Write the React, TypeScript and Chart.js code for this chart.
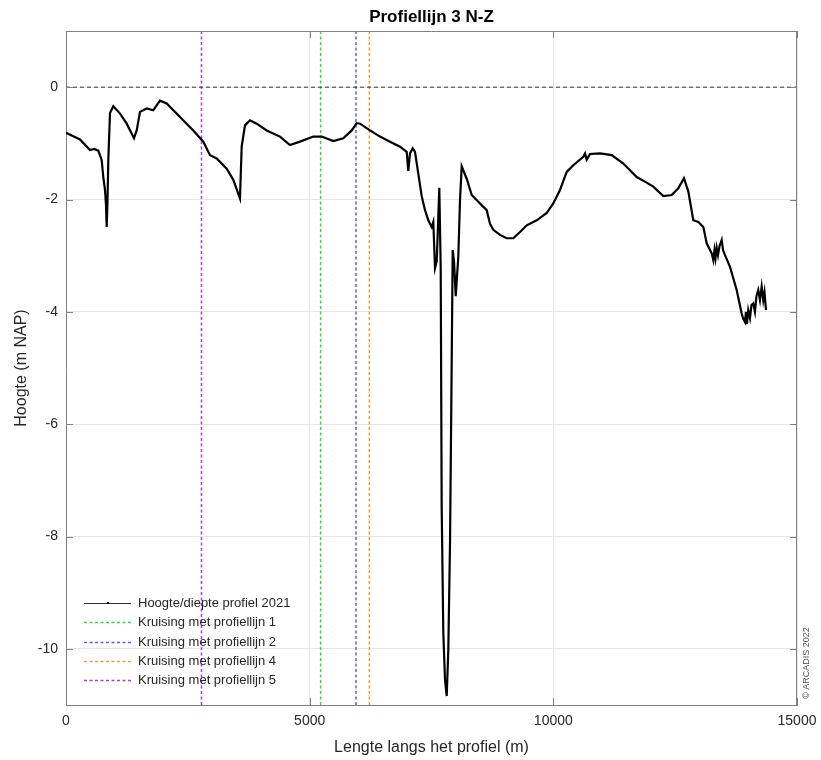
import React, { useEffect, useRef } from "react";
import { Chart, registerables } from "chart.js";

Chart.register(...registerables);

const chartTitle = "Profiellijn 3 N-Z";
const xTitle = "Lengte langs het profiel (m)";
const yTitle = "Hoogte (m NAP)";
const copyright = "© ARCADIS 2022";

const profileLabel = "Hoogte/diepte profiel 2021";
const profileX = [0, 287, 492, 580, 663, 733, 765, 800, 821, 835, 852, 868, 903, 971, 1108, 1246, 1395, 1451, 1518, 1656, 1791, 1929, 2066, 2339, 2612, 2817, 2955, 3092, 3298, 3433, 3570, 3605, 3673, 3776, 3913, 4118, 4391, 4596, 4802, 5075, 5247, 5485, 5690, 5863, 5965, 6033, 6238, 6443, 6649, 6854, 6991, 7024, 7059, 7114, 7161, 7229, 7299, 7367, 7435, 7504, 7537, 7572, 7607, 7640, 7660, 7689, 7709, 7742, 7777, 7812, 7845, 7880, 7914, 7935, 7962, 7997, 8050, 8085, 8120, 8222, 8325, 8495, 8633, 8700, 8768, 8906, 9043, 9179, 9316, 9454, 9659, 9864, 9999, 10137, 10274, 10410, 10615, 10650, 10685, 10753, 10958, 11198, 11436, 11711, 11916, 12051, 12257, 12429, 12564, 12681, 12770, 12872, 12975, 13078, 13147, 13250, 13283, 13307, 13328, 13352, 13379, 13410, 13455, 13482, 13523, 13625, 13762, 13865, 13891, 13932, 13953, 13973, 14000, 14035, 14066, 14103, 14137, 14168, 14205, 14240, 14275, 14308, 14333, 14364];
const profileY = [-0.81, -0.93, -1.12, -1.1, -1.13, -1.3, -1.6, -1.83, -2.1, -2.49, -2.01, -1.3, -0.46, -0.34, -0.47, -0.65, -0.91, -0.77, -0.44, -0.38, -0.41, -0.24, -0.29, -0.53, -0.77, -0.97, -1.21, -1.27, -1.45, -1.65, -1.98, -1.06, -0.68, -0.59, -0.65, -0.77, -0.88, -1.03, -0.97, -0.88, -0.88, -0.96, -0.91, -0.77, -0.64, -0.65, -0.77, -0.88, -0.97, -1.06, -1.15, -1.49, -1.18, -1.09, -1.15, -1.54, -1.94, -2.19, -2.37, -2.49, -2.4, -3.22, -3.1, -2.31, -1.79, -3.22, -7.47, -9.7, -10.55, -10.84, -10.02, -8.11, -4.93, -2.9, -3.1, -3.72, -3.02, -2.01, -1.41, -1.63, -1.92, -2.07, -2.19, -2.43, -2.54, -2.63, -2.69, -2.69, -2.58, -2.46, -2.37, -2.24, -2.07, -1.83, -1.51, -1.39, -1.24, -1.18, -1.29, -1.19, -1.18, -1.21, -1.36, -1.6, -1.7, -1.77, -1.94, -1.92, -1.8, -1.62, -1.86, -2.37, -2.4, -2.49, -2.78, -2.96, -3.08, -2.9, -3.04, -2.86, -2.99, -2.83, -2.72, -2.9, -2.99, -3.2, -3.61, -4.03, -4.11, -4.18, -4.0, -4.22, -3.97, -4.11, -3.88, -3.85, -4.0, -3.72, -3.61, -3.79, -3.55, -3.79, -3.65, -3.97];

const zeroLineX = [0, 15000];
const zeroLineY = [0, 0];

const crossingLabels = [
  "Kruising met profiellijn 1",
  "Kruising met profiellijn 2",
  "Kruising met profiellijn 4",
  "Kruising met profiellijn 5",
];
const crossingX = [5225, 5950, 6225, 2780];
const crossingColors = ["#33dd33", "#5c5cff", "#ff9433", "#9b3dff"];

const xRange = [0, 15000];
const yRange = [-11, 1];
const xTicks = [0, 5000, 10000, 15000];
const yTicks = [-10, -8, -6, -4, -2, 0];

const FONT = "'Liberation Sans', Arial, Helvetica, sans-serif";
const TEXT = "#262626";
const AXIS = "#808080";

const overlayPlugin = {
  id: "overlay",
  afterDraw(chart: any) {
    const ctx = chart.ctx;
    const ca = chart.chartArea;
    const xs = chart.scales.x;
    const ys = chart.scales.y;
    ctx.save();
    ctx.strokeStyle = AXIS;
    ctx.lineWidth = 1;
    ctx.setLineDash([]);
    ctx.beginPath();
    ctx.moveTo(ca.left, Math.round(ca.top) + 0.5);
    ctx.lineTo(ca.right, Math.round(ca.top) + 0.5);
    ctx.moveTo(Math.round(ca.right) - 0.5, ca.top);
    ctx.lineTo(Math.round(ca.right) - 0.5, ca.bottom);
    ctx.stroke();
    ctx.beginPath();
    for (const v of yTicks) {
      const py = Math.round(ys.getPixelForValue(v)) + 0.5;
      ctx.moveTo(ca.left, py);
      ctx.lineTo(ca.left + 7, py);
      ctx.moveTo(ca.right, py);
      ctx.lineTo(ca.right - 7, py);
    }
    for (const v of xTicks) {
      const px = Math.round(xs.getPixelForValue(v)) + 0.5;
      ctx.moveTo(px, ca.bottom);
      ctx.lineTo(px, ca.bottom - 7);
      ctx.moveTo(px, ca.top);
      ctx.lineTo(px, ca.top + 7);
    }
    ctx.stroke();

    ctx.fillStyle = "#000";
    ctx.font = `bold 17px ${FONT}`;
    ctx.textAlign = "center";
    ctx.textBaseline = "middle";
    ctx.fillText(chartTitle, (ca.left + ca.right) / 2, 17);

    const ds = chart.data.datasets;
    const rows = [ds[0], ds[2], ds[3], ds[4], ds[5]];
    ctx.font = `13px ${FONT}`;
    ctx.textAlign = "left";
    ctx.textBaseline = "middle";
    const x0 = 84;
    const x1 = 131;
    rows.forEach((d: any, i: number) => {
      const y = Math.round(603 + i * 19.3) + 0.5;
      ctx.strokeStyle = i === 0 ? "#333333" : d.borderColor;
      ctx.lineWidth = i === 0 ? 1 : 1.3;
      ctx.setLineDash(i === 0 ? [] : [3, 2.5]);
      ctx.beginPath();
      ctx.moveTo(x0, y);
      ctx.lineTo(x1, y);
      ctx.stroke();
      if (i === 0) {
        ctx.fillStyle = "#000";
        ctx.fillRect(107, y - 1.5, 2, 2);
      }
      ctx.fillStyle = TEXT;
      ctx.fillText(d.label, 138, y);
    });
    ctx.setLineDash([]);

    ctx.save();
    ctx.translate(807, 663);
    ctx.rotate(-Math.PI / 2);
    ctx.font = `9px ${FONT}`;
    ctx.fillStyle = "#505050";
    ctx.textAlign = "center";
    ctx.textBaseline = "middle";
    ctx.fillText(copyright, 0, 0);
    ctx.restore();

    ctx.restore();
  },
};

export default function App() {
  const ref = useRef<HTMLCanvasElement | null>(null);

  useEffect(() => {
    if (!ref.current) return;
    const profile = profileX.map((x, i) => ({ x, y: profileY[i] }));
    const zero = zeroLineX.map((x, i) => ({ x, y: zeroLineY[i] }));
    const crossings = crossingX.map((cx, i) => ({
      label: crossingLabels[i],
      data: [
        { x: cx, y: yRange[0] },
        { x: cx, y: yRange[1] },
      ],
      borderColor: crossingColors[i],
      backgroundColor: crossingColors[i],
      borderWidth: 1.5,
      borderDash: [3, 2.5],
      pointRadius: 0,
      showLine: true,
    }));

    const chart = new Chart(ref.current, {
      type: "scatter",
      data: {
        datasets: [
          {
            label: profileLabel,
            data: profile,
            borderColor: "#000000",
            backgroundColor: "#000000",
            borderWidth: 2.2,
            pointRadius: 0,
            showLine: true,
            tension: 0,
          },
          {
            label: "NAP 0",
            data: zero,
            borderColor: "#333333",
            borderWidth: 1,
            borderDash: [4, 3],
            pointRadius: 0,
            showLine: true,
          },
          ...crossings,
        ],
      },
      options: {
        responsive: false,
        animation: false,
        events: [],
        layout: { padding: { top: 31, right: 24, left: 0, bottom: 0 } },
        plugins: {
          legend: { display: false },
          title: { display: false },
          tooltip: { enabled: false },
        },
        scales: {
          x: {
            type: "linear",
            min: xRange[0],
            max: xRange[1],
            afterBuildTicks: (s: any) => {
              s.ticks = xTicks.map((v) => ({ value: v }));
            },
            afterFit: (s: any) => {
              s.height = 55;
              s.paddingLeft = 0;
              s.paddingRight = 0;
            },
            grid: { color: "#e6e6e6", drawTicks: false, lineWidth: 1 },
            border: { display: true, color: AXIS, width: 1 },
            ticks: {
              color: TEXT,
              font: { family: FONT, size: 14 },
              padding: 8,
              maxRotation: 0,
              callback: (v: any) => String(v),
            },
            title: {
              display: true,
              text: xTitle,
              color: TEXT,
              font: { family: FONT, size: 16 },
              padding: { top: 0, bottom: 3 },
            },
          },
          y: {
            type: "linear",
            min: yRange[0],
            max: yRange[1],
            afterBuildTicks: (s: any) => {
              s.ticks = yTicks.map((v) => ({ value: v }));
            },
            afterFit: (s: any) => {
              s.width = 66;
              s.paddingTop = 0;
              s.paddingBottom = 0;
            },
            grid: { color: "#e6e6e6", drawTicks: false, lineWidth: 1 },
            border: { display: true, color: AXIS, width: 1 },
            ticks: {
              color: TEXT,
              font: { family: FONT, size: 14 },
              padding: 8,
              callback: (v: any) => String(v),
            },
            title: {
              display: true,
              text: yTitle,
              color: TEXT,
              font: { family: FONT, size: 16 },
              padding: { top: 12, bottom: 0 },
            },
          },
        },
      },
      plugins: [overlayPlugin],
    });
    return () => chart.destroy();
  }, []);

  return (
    <div style={{ position: "absolute", left: 0, top: 0, width: 821, height: 760, background: "#fff" }}>
      <canvas ref={ref} width={821} height={760} style={{ display: "block" }} />
    </div>
  );
}
